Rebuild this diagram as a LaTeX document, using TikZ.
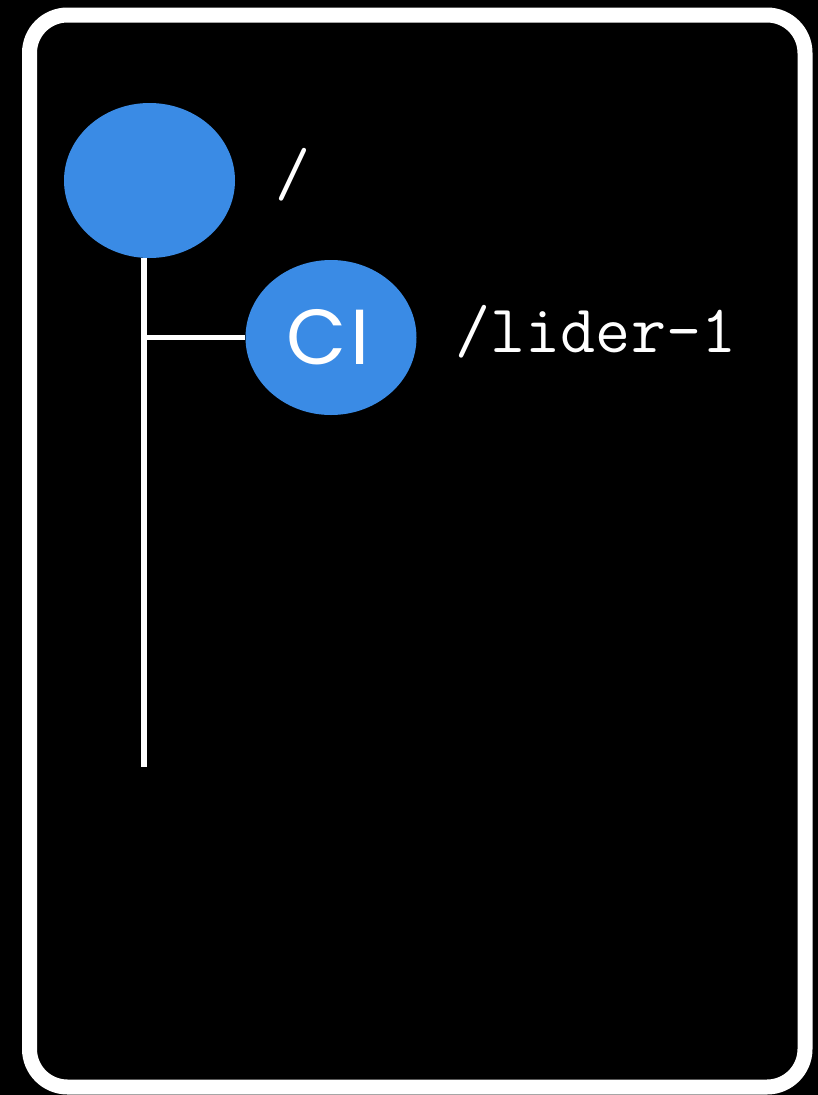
\documentclass[tikz,border=0pt]{standalone}
\usepackage{fontspec}
\newfontfamily\namefont{Poppins}
\usetikzlibrary{positioning, shapes.geometric}
\definecolor{dirblue}{RGB}{58,139,229}

\begin{document}
\begin{tikzpicture}[x=1pt, y=-1pt,
    dirnode/.style={ellipse, fill=dirblue, minimum width=171pt, minimum height=155pt, inner sep=0pt,
      text=white, font=\namefont\fontsize{78}{78}\selectfont},
    pathlabel/.style={text=white, inner sep=0pt, font=\ttfamily\fontsize{68}{68}\selectfont},
    branch/.style={white, line width=5.5pt}]
  % black card with white rounded frame
  \fill[black] (0,0) rectangle (818,1095);
  \draw[white, line width=15pt, rounded corners=38pt] (29.5,15) rectangle (805,1087);

  % directory nodes
  \node[dirnode] (root) at (149.5,180.5) {};
  \node[dirnode] (ci) at (331,337.5) {\kern-6pt C\kern4pt I};

  % paths next to the nodes, baseline a bit below the node centre
  \node[pathlabel, right=40pt of root.east, anchor=base west, yshift=-14.5pt] (rootpath) {/};
  \node[pathlabel, right=39pt of ci.east, anchor=base west, yshift=-14.5pt] (cipath) {/lider-1};

  % tree lines
  \coordinate (trunkend) at (144,767);
  \draw[branch] (root.south -| trunkend) -- (trunkend);
  \draw[branch] (ci.west -| trunkend) -- (ci.west);
\end{tikzpicture}
\end{document}
